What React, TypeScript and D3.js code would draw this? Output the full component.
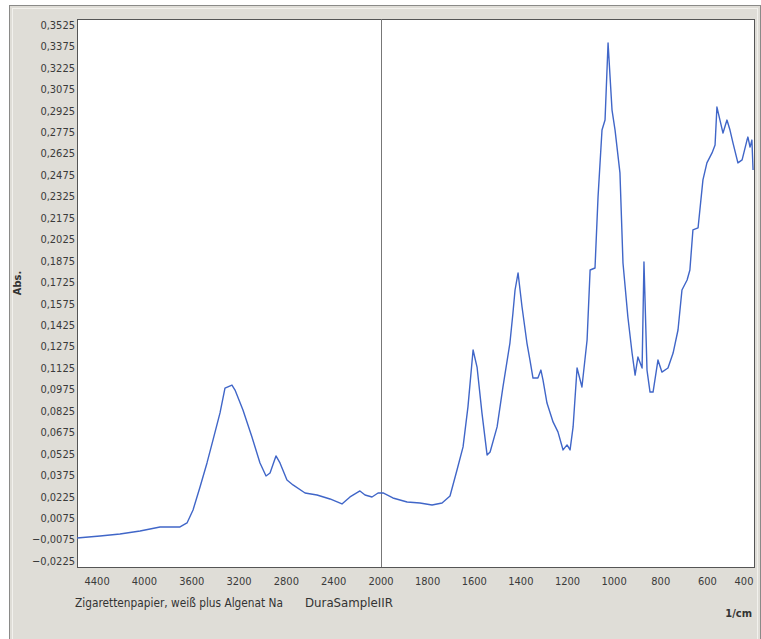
import React, { useEffect, useRef } from "react";
import * as d3 from "d3";

// spectrum (wavenumber 1/cm, absorbance)
const wavenumbers = [
  4570, 4375, 4207, 4037, 3868, 3699, 3640, 3589, 3530, 3471, 3420, 3361, 3319, 3260, 3234,
  3167, 3091, 3023, 2972, 2938, 2888, 2854, 2795, 2744, 2642, 2541, 2431, 2330, 2262, 2178,
  2135, 2076, 2025, 1991, 1949, 1888, 1833, 1781, 1738, 1704, 1674, 1648, 1627, 1605, 1588,
  1567, 1545, 1532, 1502, 1477, 1447, 1434, 1425, 1412, 1395, 1374, 1361, 1348, 1327, 1314,
  1305, 1288, 1262, 1241, 1219, 1202, 1189, 1176, 1159, 1138, 1116, 1103, 1082, 1069, 1052,
  1039, 1026, 1009, 996, 975, 962, 941, 923, 910, 898, 880, 872, 859, 846, 833,
  812, 795, 769, 747, 726, 709, 687, 675, 662, 640, 619, 602, 580, 567, 559,
  546, 533, 516, 503, 490, 469, 451, 430, 426, 417, 409, 404
];
const absorbance = [
  -0.0064, -0.005, -0.0036, -0.0015, 0.0013, 0.0013, 0.0041, 0.0132, 0.0293, 0.0461, 0.0622, 0.0811, 0.0985, 0.1006, 0.0971,
  0.0832, 0.0643, 0.0461, 0.037, 0.0391, 0.051, 0.0461, 0.0342, 0.0307, 0.0251, 0.0237, 0.0209, 0.0174, 0.0223, 0.0265,
  0.0237, 0.0223, 0.0251, 0.0251, 0.0216, 0.0188, 0.0181, 0.0167, 0.0181, 0.023, 0.0412, 0.0573, 0.0853, 0.1251, 0.1132,
  0.0811, 0.0517, 0.0538, 0.0713, 0.0992, 0.13, 0.151, 0.1671, 0.179, 0.1552, 0.13, 0.1181, 0.1055, 0.1055, 0.1111,
  0.1041, 0.088, 0.0748, 0.0678, 0.0552, 0.0587, 0.0552, 0.0713, 0.1125, 0.0992, 0.1321, 0.1811, 0.1825, 0.2322, 0.279,
  0.286, 0.3399, 0.293, 0.279, 0.249, 0.186, 0.1482, 0.123, 0.1076, 0.1202, 0.1125, 0.1867, 0.1111, 0.0957, 0.0957,
  0.1181, 0.1097, 0.1125, 0.123, 0.1391, 0.1671, 0.1741, 0.1811, 0.2091, 0.2105, 0.2441, 0.256, 0.263, 0.2685, 0.2951,
  0.286, 0.2769, 0.286, 0.279, 0.2699, 0.256, 0.2581, 0.272, 0.2741, 0.2671, 0.272, 0.2511
];

const xTicks = [4400, 4000, 3600, 3200, 2800, 2400, 2000, 1800, 1600, 1400, 1200, 1000, 800, 600, 400];
const yTicks = [
  0.3525, 0.3375, 0.3225, 0.3075, 0.2925, 0.2775, 0.2625, 0.2475, 0.2325, 0.2175, 0.2025, 0.1875, 0.1725,
  0.1575, 0.1425, 0.1275, 0.1125, 0.0975, 0.0825, 0.0675, 0.0525, 0.0375, 0.0225, 0.0075, -0.0075, -0.0225
];

const sampleName = "Zigarettenpapier, weiß plus Algenat Na";
const accessory = "DuraSampleIIR";

function App() {
  const chart = useRef<SVGSVGElement>(null);

  useEffect(() => {
    document.body.style.margin = "0";
    const width = 761;
    const height = 639;
    const plot = { left: 77, right: 754, top: 19, bottom: 567 };
    const font = "'Liberation Sans Narrow', 'DejaVu Sans Condensed', sans-serif";

    const svg = d3.select(chart.current)
      .attr("width", width)
      .attr("height", height);

    // outer panel
    svg.append("rect")
      .attr("x", 9.5).attr("y", 5.5)
      .attr("width", width - 10).attr("height", height)
      .attr("fill", "#dfddd7")
      .attr("stroke", "#8a8a88");
    svg.append("rect")
      .attr("x", 12.5).attr("y", 8.5)
      .attr("width", width - 16).attr("height", height)
      .attr("fill", "none")
      .attr("stroke", "#f2f1ed");

    // x is split at 2000: the low range is stretched
    const x = d3.scaleLinear()
      .domain([4570, 2000, 400])
      .range([plot.left, 381, plot.right]);
    const y = d3.scaleLinear()
      .domain([-0.0267, 0.3567])
      .range([plot.bottom, plot.top]);

    svg.append("rect")
      .attr("x", plot.left + 0.5).attr("y", plot.top + 0.5)
      .attr("width", plot.right - plot.left).attr("height", plot.bottom - plot.top)
      .attr("fill", "#fff")
      .attr("stroke", "#555");

    svg.append("line")
      .attr("x1", Math.round(x(2000)) + 0.5).attr("x2", Math.round(x(2000)) + 0.5)
      .attr("y1", plot.top).attr("y2", plot.bottom)
      .attr("stroke", "#777");

    // y labels
    const fmt = d3.format(".4f");
    svg.append("g")
      .selectAll("text")
      .data(yTicks)
      .enter()
      .append("text")
      .attr("x", plot.left - 2)
      .attr("y", d => y(d))
      .attr("dy", "0.35em")
      .attr("text-anchor", "end")
      .attr("font-family", font)
      .attr("font-size", 11)
      .attr("fill", "#3a3a3a")
      .text(d => fmt(d).replace(".", ","));

    // x labels
    svg.append("g")
      .selectAll("text")
      .data(xTicks)
      .enter()
      .append("text")
      .attr("x", d => Math.min(x(d), plot.right - 10))
      .attr("y", plot.bottom + 18)
      .attr("text-anchor", "middle")
      .attr("font-family", font)
      .attr("font-size", 11)
      .attr("fill", "#3a3a3a")
      .text(d => d);

    svg.append("text")
      .attr("transform", "translate(21,283) rotate(-90)")
      .attr("text-anchor", "middle")
      .attr("font-family", font)
      .attr("font-size", 11)
      .attr("font-weight", "bold")
      .attr("fill", "#333")
      .text("Abs.");

    svg.append("text")
      .attr("x", 75).attr("y", 607)
      .attr("font-family", font)
      .attr("font-size", 11.5)
      .attr("textLength", 208)
      .attr("lengthAdjust", "spacingAndGlyphs")
      .attr("fill", "#333")
      .text(sampleName);
    svg.append("text")
      .attr("x", 305).attr("y", 607)
      .attr("font-family", font)
      .attr("font-size", 11.5)
      .attr("textLength", 88)
      .attr("lengthAdjust", "spacingAndGlyphs")
      .attr("fill", "#333")
      .text(accessory);
    svg.append("text")
      .attr("x", 752).attr("y", 617)
      .attr("text-anchor", "end")
      .attr("font-family", font)
      .attr("font-size", 11)
      .attr("font-weight", "bold")
      .attr("fill", "#333")
      .text("1/cm");

    // spectrum
    const line = d3.line<number>()
      .x((d, i) => x(wavenumbers[i]))
      .y(d => y(d));
    svg.append("path")
      .datum(absorbance)
      .attr("d", line)
      .attr("fill", "none")
      .attr("stroke", "#4066c8")
      .attr("stroke-width", 1.4)
      .attr("stroke-linejoin", "round");

    return () => {
      svg.selectAll("*").remove();
    };
  }, []);

  return <svg ref={chart} style={{ display: "block" }}></svg>;
}

export default App;
